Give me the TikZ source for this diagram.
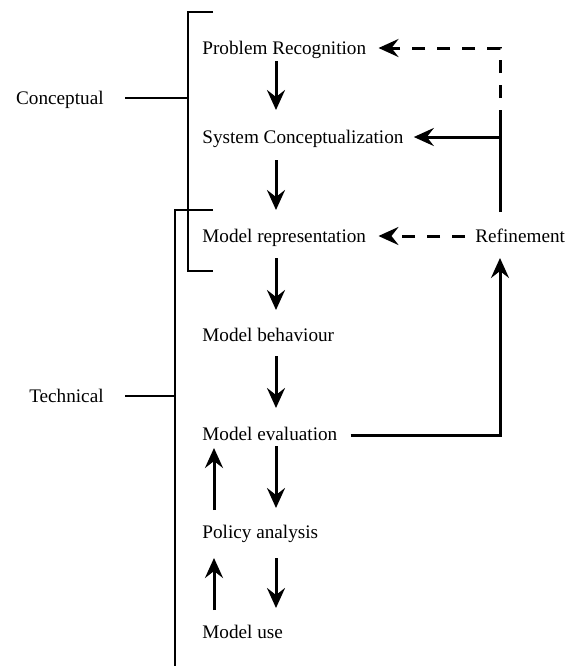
\documentclass[tikz,border=0pt]{standalone}
\usepackage{fontspec}
\setmainfont{Liberation Serif}
\usepackage{tikz}
\usetikzlibrary{arrows.meta,calc,positioning}

\tikzset{
  stage/.style={anchor=base west,inner sep=0pt,font=\fontsize{9.6}{11}\selectfont},
  side/.style={anchor=base east,inner sep=0pt,font=\fontsize{9.6}{11}\selectfont},
  flow/.style={line width=1.5pt,-{Stealth[length=10pt,width=9pt,inset=3.5pt]}},
  loopback/.style={flow,dash pattern=on 6.5pt off 6pt},
  brace/.style={line width=0.55pt}
}

\begin{document}
\begin{tikzpicture}[x=0.5pt,y=-0.5pt]
    \useasboundingbox (0,0) rectangle (566,666);
    % stages
    \node[stage] (pr) at (202,54) {Problem Recognition};
    \node[stage] (sc) at (202,143) {System Conceptualization};
    \node[stage] (mr) at (202,242) {Model representation};
    \node[stage] (mb) at (202,341) {Model behaviour};
    \node[stage] (me) at (202,440) {Model evaluation};
    \node[stage] (pa) at (202,538) {Policy analysis};
    \node[stage] (mu) at (202,638) {Model use};
    \node[stage] (ref) at (475,242) {Refinement};
    % groups
    \node[side] (conc) at (104,104) {Conceptual};
    \node[side] (tech) at (104,402) {Technical};
    \draw[brace] (213,12) -| (188,271) -- (213,271);
    \draw[brace] (213,210) -| (175,666);
    \draw[brace] ($(conc.base east)+(21,-6)$) -- ++(63,0);
    \draw[brace] ($(tech.base east)+(21,-6)$) -- ++(50,0);
    % main flow
    \draw[flow] ($(pr.base west)+(74,7)$) -- ($(sc.base west)+(74,-33)$);
    \draw[flow] ($(sc.base west)+(74,17)$) -- ($(mr.base west)+(74,-32)$);
    \draw[flow] ($(mr.base west)+(74,16)$) -- ($(mb.base west)+(74,-31)$);
    \draw[flow] ($(mb.base west)+(74,15)$) -- ($(me.base west)+(74,-32)$);
    \draw[flow] ($(me.base west)+(74,6)$) -- ($(pa.base west)+(74,-30)$);
    \draw[flow] ($(pa.base west)+(74,20)$) -- ($(mu.base west)+(74,-30)$);
    \draw[flow] ($(pa.base west)+(12,-28)$) -- ($(me.base west)+(12,8)$);
    \draw[flow] ($(mu.base west)+(12,-28)$) -- ($(pa.base west)+(12,20)$);
    % refinement loop
    \coordinate (reftop) at ($(ref.base west)+(25,-30)$);
    \coordinate (refbot) at ($(ref.base west)+(25,16)$);
    \coordinate (split) at (reftop |- 0,123);
    \coordinate (scin) at ($(sc.base east)+(10,-6)$);
    \draw[flow] ($(me.base east)+(13,-5)$) -| (refbot);
    \draw[line width=1.5pt] (reftop) -- (split);
    \draw[flow] (split |- scin) -- (scin);
    \draw[loopback] (split) |- ($(pr.base east)+(12,-6)$);
    \draw[loopback] ($(ref.base west)+(-10,-6)$) -- ($(mr.base east)+(12,-6)$);
\end{tikzpicture}
\end{document}
